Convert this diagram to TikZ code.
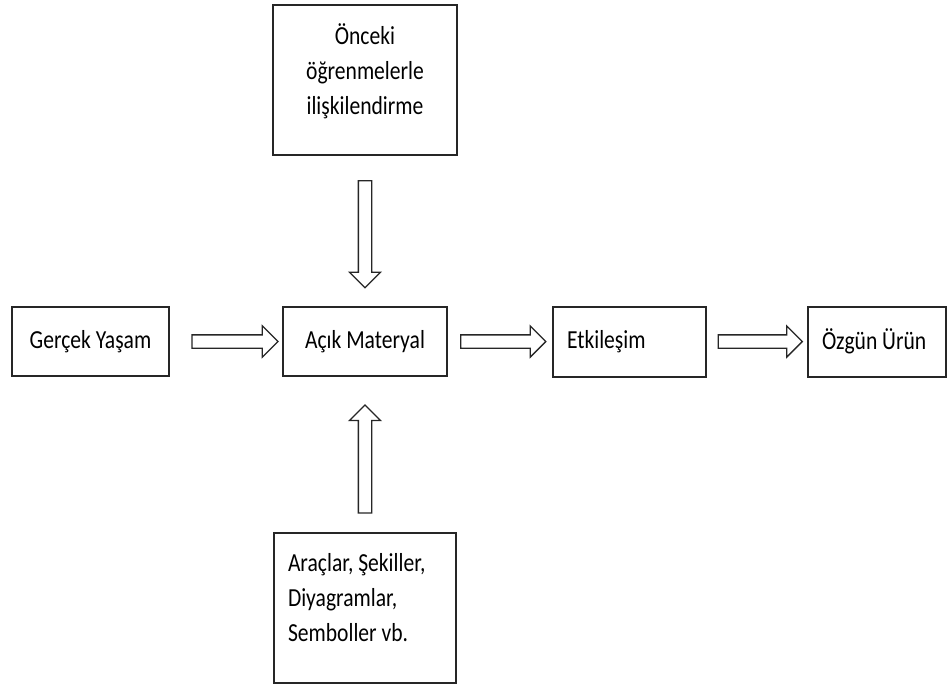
\documentclass[tikz,border=0pt]{standalone}
\usepackage{fontspec}
\setmainfont[FakeStretch=0.83]{Carlito}
\usetikzlibrary{positioning, shapes.arrows}
\tikzset{
	box/.style={draw=black!85, line width=2pt, inner xsep=14pt, inner ysep=0pt, font=\fontsize{26}{35}\selectfont}, % the framed boxes
	hollow/.style={single arrow, draw=black!85, fill=white, line width=1.3pt, inner xsep=0pt, inner ysep=6pt, text height=0pt, text depth=0pt, minimum width=0pt, single arrow head extend=9pt, single arrow tip angle=90, sloped, allow upside down}, % the open block arrows
}

\begin{document}
\begin{tikzpicture}[node distance=1cm, on grid]
		% Boxes
		\node[box, minimum width=164pt, minimum height=69pt] (acik) {Açık Materyal};
		\node[box, minimum width=157pt, minimum height=69pt, left=274.5pt of acik] (gercek) {Gerçek Yaşam};
		\node[box, text width=125pt, align=flush left, minimum height=70pt, right=264.5pt of acik] (etkilesim) {Etkileşim};
		\node[box, text width=110pt, align=flush left, minimum height=70pt, right=247.5pt of etkilesim] (ozgun) {Özgün Ürün};
		\node[box, minimum width=183pt, minimum height=150pt, align=center, above=261.5pt of acik] (onceki) {Önceki\\öğrenmelerle\\ilişkilendirme\\[-13pt]\mbox{}};
		\node[box, text width=154pt, align=flush left, minimum height=150pt, below=266.5pt of acik] (araclar) {Araçlar, Şekiller,\\Diyagramlar,\\Semboller vb.\\[-14pt]\mbox{}};
		
		% Arrows
		\path (gercek.east) -- node[hollow, pos=0.55, minimum height=86pt] {} (acik.west);
		\path (acik.east) -- node[hollow, minimum height=85pt] {} (etkilesim.west);
		\path (etkilesim.east) -- node[hollow, minimum height=84pt] {} (ozgun.west);
		\path (onceki.south) -- node[hollow, minimum height=107pt] {} (acik.north);
		\path (araclar.north) -- node[hollow, pos=0.45, minimum height=108pt] {} (acik.south);
		
		\useasboundingbox (-365pt,-344.5pt) rectangle (584pt,341.5pt);
\end{tikzpicture}
\end{document}
